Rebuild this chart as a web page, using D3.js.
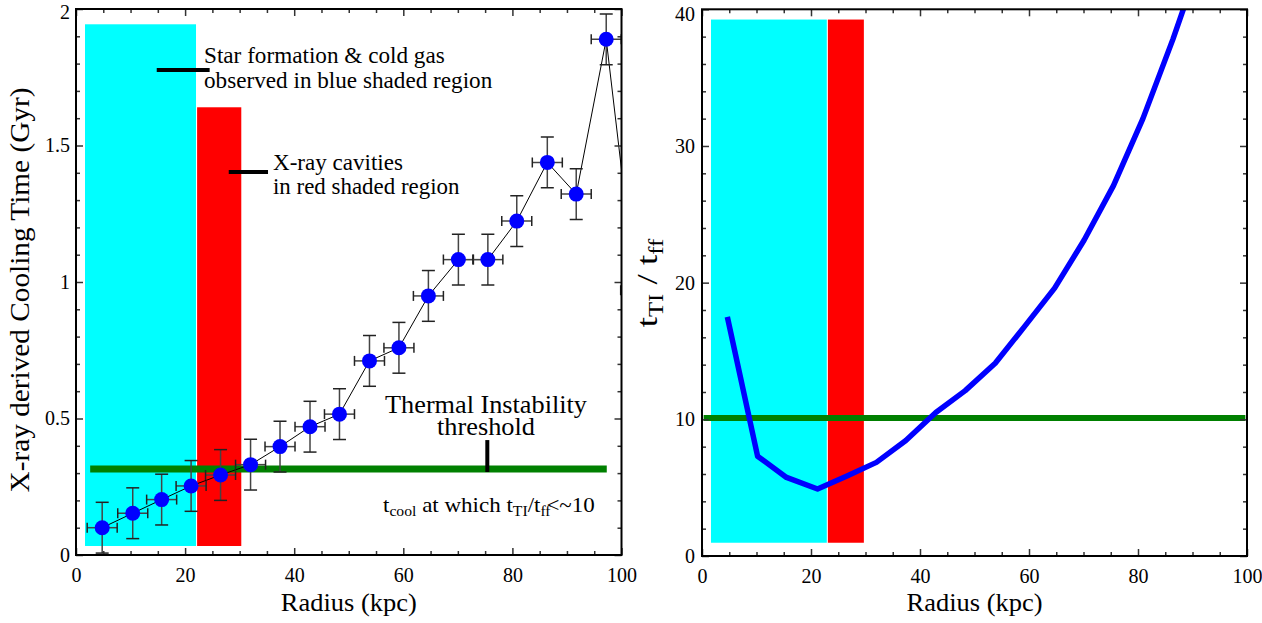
<!DOCTYPE html>
<html><head><meta charset="utf-8">
<script src="https://cdn.jsdelivr.net/npm/d3@7"></script>
<style>
body{margin:0;background:#fff}
svg{display:block}
svg text{font-family:"Liberation Serif","Times New Roman",serif;fill:#000}
</style>
</head><body>
<svg id="c" width="1262" height="623"></svg>
<script>
// ---- Left panel data: X-ray derived cooling time ----
const radius    = [4.8, 10.4, 15.7, 21.1, 26.5, 32.0, 37.4, 42.9, 48.3, 53.8, 59.2, 64.6, 70.1, 75.5, 80.8, 86.4, 91.7, 97.2, 102.6];
const coolTime  = [0.10, 0.153, 0.203, 0.253, 0.293, 0.331, 0.397, 0.47, 0.516, 0.711, 0.759, 0.949, 1.082, 1.082, 1.223, 1.438, 1.322, 1.889, 0.97];
const coolErr   = [0.093, 0.093, 0.093, 0.093, 0.093, 0.093, 0.093, 0.093, 0.093, 0.093, 0.093, 0.093, 0.093, 0.093, 0.093, 0.093, 0.093, 0.093, 0.093];
const radiusErr = [2.75, 2.75, 2.75, 2.75, 2.75, 2.75, 2.75, 2.75, 2.75, 2.75, 2.75, 2.75, 2.75, 2.75, 2.75, 2.75, 2.75, 2.75, 2.75];

// ---- Right panel data: t_TI / t_ff ----
const tiRadius = [4.65, 10.2, 15.5, 21.2, 26.6, 32.0, 37.4, 42.9, 48.3, 53.8, 59.2, 64.7, 70.1, 75.5, 80.9, 86.4, 91.8];
const tiRatio  = [17.5, 7.3, 5.75, 4.9, 5.85, 6.85, 8.45, 10.5, 12.1, 14.1, 16.8, 19.6, 23.1, 27.1, 32.0, 37.8, 44.0];

// ---- Shaded regions [xStart, xEnd, yBottom, yTop] ----
const blueRegionLeft  = [1.65, 22.0, 0.033, 1.944];
const redRegionLeft   = [22.2, 30.3, 0.033, 1.64];
const blueRegionRight = [1.65, 22.9, 0.97, 39.25];
const redRegionRight  = [23.1, 29.7, 0.97, 39.25];

// ---- Threshold lines [xStart, xEnd, value] ----
const thresholdLeft  = [2.6, 97.3, 0.315];
const thresholdRight = [0.3, 99.7, 10.1];

// ---- Tick values ----
const xMajor = [0, 20, 40, 60, 80, 100];
const xMinor = [5, 10, 15, 25, 30, 35, 45, 50, 55, 65, 70, 75, 85, 90, 95];
const yLeftMajor = [0, 0.5, 1, 1.5, 2];
const yLeftMinor = [0.1, 0.2, 0.3, 0.4, 0.6, 0.7, 0.8, 0.9, 1.1, 1.2, 1.3, 1.4, 1.6, 1.7, 1.8, 1.9];
const yRightMajor = [0, 10, 20, 30, 40];
const yRightMinor = [2, 4, 6, 8, 12, 14, 16, 18, 22, 24, 26, 28, 32, 34, 36, 38];

const FONT = '"Liberation Serif","Times New Roman",serif';
const svg = d3.select("#c");
svg.append("rect").attr("width", 1262).attr("height", 623).attr("fill", "#fff");
const defs = svg.append("defs");

// fit text to a width along its baseline
function fitText(parent, x, y, rot, anchor, width, build) {
  const g = parent.append("g").attr("transform", `translate(${x},${y}) rotate(${rot})`);
  const t = g.append("text").attr("text-anchor", anchor).attr("font-family", FONT).style("font-family", FONT);
  build(t);
  const w = t.node().getBBox().width;
  if (width && w > 0) t.attr("transform", `scale(${width / w},1)`);
  return t;
}

function panel(id, xr, yr, yDomain, yMaj, yMin, yPad, topShift) {
  const x = d3.scaleLinear().domain([0, 100]).range(xr);
  const y = d3.scaleLinear().domain(yDomain).range(yr);
  const g = svg.append("g");
  defs.append("clipPath").attr("id", id).append("rect")
    .attr("x", xr[0]).attr("y", yr[1]).attr("width", xr[1] - xr[0]).attr("height", yr[0] - yr[1]);
  const plot = g.append("g").attr("clip-path", `url(#${id})`);
  const axes = g.append("g");
  const styleAxis = s => {
    s.attr("font-family", FONT);
    s.select(".domain").remove();
    s.selectAll(".tick line").attr("stroke", "#333").attr("stroke-width", 1.5);
    s.selectAll(".tick text").style("font-family", FONT).style("font-size", "20px").attr("fill", "#000");
  };
  axes.append("g").attr("transform", `translate(0,${yr[0]})`)
    .call(d3.axisBottom(x).tickValues(xMajor).tickSizeInner(-7).tickSizeOuter(0).tickPadding(13).tickFormat(d3.format("d"))).call(styleAxis);
  axes.append("g").attr("transform", `translate(0,${yr[0]})`)
    .call(d3.axisBottom(x).tickValues(xMinor).tickSizeInner(-4).tickSizeOuter(0).tickFormat("")).call(styleAxis);
  axes.append("g").attr("transform", `translate(0,${yr[1]})`)
    .call(d3.axisTop(x).tickValues(xMajor).tickSizeInner(-7).tickSizeOuter(0).tickFormat("")).call(styleAxis);
  axes.append("g").attr("transform", `translate(0,${yr[1]})`)
    .call(d3.axisTop(x).tickValues(xMinor).tickSizeInner(-4).tickSizeOuter(0).tickFormat("")).call(styleAxis);
  const yAx = axes.append("g").attr("transform", `translate(${xr[0]},0)`)
    .call(d3.axisLeft(y).tickValues(yMaj).tickSizeInner(-7).tickSizeOuter(0).tickPadding(yPad).tickFormat(d3.format("~g"))).call(styleAxis);
  // top-most label sits a little lower, as in the original figure
  yAx.selectAll(".tick text").filter(d => d === yDomain[1]).attr("transform", `translate(0,${topShift})`);
  axes.append("g").attr("transform", `translate(${xr[0]},0)`)
    .call(d3.axisLeft(y).tickValues(yMin).tickSizeInner(-4).tickSizeOuter(0).tickFormat("")).call(styleAxis);
  axes.append("g").attr("transform", `translate(${xr[1]},0)`)
    .call(d3.axisRight(y).tickValues(yMaj).tickSizeInner(-7).tickSizeOuter(0).tickFormat("")).call(styleAxis);
  axes.append("g").attr("transform", `translate(${xr[1]},0)`)
    .call(d3.axisRight(y).tickValues(yMin).tickSizeInner(-4).tickSizeOuter(0).tickFormat("")).call(styleAxis);
  axes.append("rect").attr("x", xr[0]).attr("y", yr[1]).attr("width", xr[1] - xr[0]).attr("height", yr[0] - yr[1])
    .attr("fill", "none").attr("stroke", "#000").attr("stroke-width", 2);
  // x label
  fitText(g, (xr[0] + xr[1]) / 2, 611, 0, "middle", 136, t => t.style("font-size", "26px").text("Radius (kpc)"));
  return {x, y, g, plot};
}

function region(p, r, color) {
  p.plot.append("rect").attr("x", p.x(r[0])).attr("y", p.y(r[3]))
    .attr("width", p.x(r[1]) - p.x(r[0])).attr("height", p.y(r[2]) - p.y(r[3])).attr("fill", color);
}
function threshold(p, t, w) {
  p.plot.append("line").attr("x1", p.x(t[0])).attr("x2", p.x(t[1])).attr("y1", p.y(t[2])).attr("y2", p.y(t[2]))
    .attr("stroke", "#008000").attr("stroke-width", w);
}

// ===== Left panel =====
const L = panel("clipL", [76, 621.5], [555, 9], [0, 2], yLeftMajor, yLeftMinor, 6, 3);
region(L, blueRegionLeft, "#00FFFF");
region(L, redRegionLeft, "#FF0000");
threshold(L, thresholdLeft, 7);

// annotation bars
L.plot.append("line").attr("x1", L.x(14.8)).attr("x2", L.x(24.5)).attr("y1", L.y(1.777)).attr("y2", L.y(1.777)).attr("stroke", "#000").attr("stroke-width", 4);
L.plot.append("line").attr("x1", L.x(28.0)).attr("x2", L.x(35.2)).attr("y1", L.y(1.403)).attr("y2", L.y(1.403)).attr("stroke", "#000").attr("stroke-width", 4);
L.plot.append("line").attr("x1", L.x(75.4)).attr("x2", L.x(75.4)).attr("y1", L.y(0.304)).attr("y2", L.y(0.421)).attr("stroke", "#000").attr("stroke-width", 4);

const pts = radius.map((r, i) => ({r, t: coolTime[i], ey: coolErr[i], ex: radiusErr[i]}));
// connecting line
L.plot.append("path").datum(pts)
  .attr("d", d3.line().x(d => L.x(d.r)).y(d => L.y(d.t)))
  .attr("fill", "none").attr("stroke", "#000").attr("stroke-width", 1);
// error bars
const eb = L.plot.append("g").selectAll("g").data(pts).join("g");
eb.append("line").attr("x1", d => L.x(d.r)).attr("x2", d => L.x(d.r)).attr("y1", d => L.y(d.t - d.ey)).attr("y2", d => L.y(d.t + d.ey)).attr("stroke", "#444").attr("stroke-width", 1.5);
eb.append("line").attr("x1", d => L.x(d.r - d.ex)).attr("x2", d => L.x(d.r + d.ex)).attr("y1", d => L.y(d.t)).attr("y2", d => L.y(d.t)).attr("stroke", "#444").attr("stroke-width", 1.5);
eb.append("line").attr("x1", d => L.x(d.r) - 6.5).attr("x2", d => L.x(d.r) + 6.5).attr("y1", d => L.y(d.t - d.ey)).attr("y2", d => L.y(d.t - d.ey)).attr("stroke", "#222").attr("stroke-width", 1.5);
eb.append("line").attr("x1", d => L.x(d.r) - 6.5).attr("x2", d => L.x(d.r) + 6.5).attr("y1", d => L.y(d.t + d.ey)).attr("y2", d => L.y(d.t + d.ey)).attr("stroke", "#222").attr("stroke-width", 1.5);
eb.append("line").attr("x1", d => L.x(d.r - d.ex)).attr("x2", d => L.x(d.r - d.ex)).attr("y1", d => L.y(d.t) - 5).attr("y2", d => L.y(d.t) + 5).attr("stroke", "#222").attr("stroke-width", 1.5);
eb.append("line").attr("x1", d => L.x(d.r + d.ex)).attr("x2", d => L.x(d.r + d.ex)).attr("y1", d => L.y(d.t) - 5).attr("y2", d => L.y(d.t) + 5).attr("stroke", "#222").attr("stroke-width", 1.5);
// points
L.plot.append("g").selectAll("circle").data(pts).join("circle")
  .attr("cx", d => L.x(d.r)).attr("cy", d => L.y(d.t)).attr("r", 7.5).attr("fill", "#0000FF");

// left annotations
fitText(L.g, 204, 63, 0, "start", 241, t => t.style("font-size", "23px").text("Star formation & cold gas"));
fitText(L.g, 204, 88, 0, "start", 289, t => t.style("font-size", "23px").text("observed in blue shaded region"));
fitText(L.g, 273, 170, 0, "start", 130, t => t.style("font-size", "23px").text("X-ray cavities"));
fitText(L.g, 273, 194, 0, "start", 187, t => t.style("font-size", "23px").text("in red shaded region"));
fitText(L.g, 486, 413, 0, "middle", 202, t => t.style("font-size", "26px").text("Thermal Instability"));
fitText(L.g, 486, 435, 0, "middle", 98, t => t.style("font-size", "26px").text("threshold"));
fitText(L.g, 383, 512, 0, "start", 212, t => {
  t.style("font-size", "22px");
  t.append("tspan").text("t");
  t.append("tspan").attr("dy", 4).style("font-size", "15px").text("cool");
  t.append("tspan").attr("dy", -4).text(" at which t");
  t.append("tspan").attr("dy", 4).style("font-size", "15px").text("TI");
  t.append("tspan").attr("dy", -4).text("/t");
  t.append("tspan").attr("dy", 4).style("font-size", "15px").text("ff");
  t.append("tspan").attr("dy", -4).attr("dx", -4).text("<~10");
});
fitText(L.g, 29, 290, -90, "middle", 405, t => t.style("font-size", "27px").text("X-ray derived Cooling Time (Gyr)"));

// ===== Right panel =====
const R = panel("clipR", [702, 1247], [556, 9.3], [0, 40], yRightMajor, yRightMinor, 7, 5);
region(R, blueRegionRight, "#00FFFF");
region(R, redRegionRight, "#FF0000");
threshold(R, thresholdRight, 6);
const tiPts = tiRadius.map((r, i) => ({r, v: tiRatio[i]}));
R.plot.append("path").datum(tiPts)
  .attr("d", d3.line().x(d => R.x(d.r)).y(d => R.y(d.v)))
  .attr("fill", "none").attr("stroke", "#0000FF").attr("stroke-width", 5.5).attr("stroke-linejoin", "round");

fitText(R.g, 657, 283, -90, "middle", 89, t => {
  t.style("font-size", "30px");
  t.append("tspan").text("t");
  t.append("tspan").attr("dy", 6).style("font-size", "20px").text("TI");
  t.append("tspan").attr("dy", -6).text(" / t");
  t.append("tspan").attr("dy", 6).style("font-size", "20px").text("ff");
});
</script>
</body></html>
